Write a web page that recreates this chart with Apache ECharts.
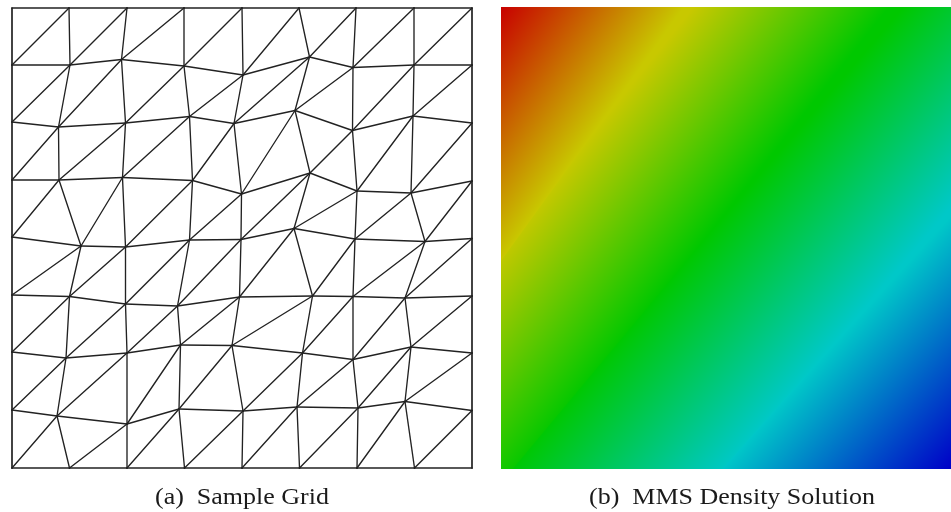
<!DOCTYPE html>
<html>
<head>
<meta charset="utf-8">
<style>
  html, body { margin: 0; background: #fff; }
  #main-chart { width: 951px; height: 512px; }
</style>
<script src="https://cdn.jsdelivr.net/npm/echarts@6/dist/echarts.min.js"></script>
</head>
<body>
<div id="main-chart"></div>
<script>
// mesh nodes, one row per horizontal grid line, top to bottom
const nodeX = [
  [0, 57, 115, 172, 230, 287, 344, 402, 460],
  [0, 58, 109.5, 172, 231, 297.5, 341, 402, 460],
  [0, 46.5, 113.5, 177.5, 222, 283, 340.5, 401, 460],
  [0, 47, 110.5, 180.5, 229.5, 298, 345, 399, 460],
  [0, 69, 113.5, 177.5, 229, 282, 343, 413, 460],
  [0, 57.5, 113.5, 165.5, 227.5, 300.5, 341, 393, 460],
  [0, 54, 115, 168.5, 220, 290.5, 341, 399, 460],
  [0, 45, 115, 167, 231, 285, 346, 393, 460],
  [0, 57.5, 115, 172.5, 230, 287.5, 345, 402.5, 460]
];
const nodeY = [
  [0, 0, 0, 0, 0, 0, 0, 0, 0],
  [57, 57, 51.5, 58, 67, 49, 59.5, 57, 57],
  [114, 119, 115, 108.5, 115.5, 102.5, 122.5, 108, 115],
  [172, 172, 169.5, 172.5, 186, 165, 183, 185, 173],
  [229, 238, 239, 232, 231.5, 220.5, 231, 233.5, 230.5],
  [287, 288.5, 296, 298, 289, 288, 288.5, 290, 288],
  [344, 350, 345, 337, 337.5, 345, 351.5, 339, 345],
  [402, 408, 416, 401, 403, 399, 400, 393.5, 402.5],
  [460, 460, 460, 460, 460, 460, 460, 460, 460]
];

// density contours: [x0, y0, x1, y1]
const densityLines = [
  [74, -100, -74, 100],
  [188, 0, 3, 250],
  [408, 0, 12, 462],
  [450, 220, 227, 462],
  [557, 362, 367, 562]
];
const densityColors = ["#c80000", "#c8c800", "#00c800", "#00c8c8", "#0000c8"];

const captions = ["(a)  Sample Grid", "(b)  MMS Density Solution"];

const segments = [];
for (let r = 0; r < 9; r++) {
  for (let c = 0; c < 9; c++) {
    const x = nodeX[r][c];
    const y = nodeY[r][c];
    if (c < 8) segments.push([x, y, nodeX[r][c + 1], nodeY[r][c + 1]]);
    if (r < 8) segments.push([x, y, nodeX[r + 1][c], nodeY[r + 1][c]]);
    if (r < 8 && c < 8) segments.push([nodeX[r + 1][c], nodeY[r + 1][c], nodeX[r][c + 1], nodeY[r][c + 1]]);
  }
}

const bands = densityLines.slice(0, -1).map((line, i) => [...line, ...densityLines[i + 1], i]);

function renderSegment(params, api) {
  const x0 = api.value(0);
  const y0 = api.value(1);
  const x1 = api.value(2);
  const y1 = api.value(3);
  const a = api.coord([x0, y0]);
  const b = api.coord([x1, y1]);
  // the outer square reads heavier than the inner edges
  const onBorder = (x0 === x1 && (x0 === 0 || x0 === 460)) || (y0 === y1 && (y0 === 0 || y0 === 460));
  return {
    type: "line",
    shape: { x1: a[0], y1: a[1], x2: b[0], y2: b[1] },
    style: { stroke: "#222", lineWidth: onBorder ? 1.7 : 1.35, lineCap: "round" }
  };
}

function stretch(p, q) {
  const dx = (q[0] - p[0]) * 0.6;
  const dy = (q[1] - p[1]) * 0.6;
  return [[p[0] - dx, p[1] - dy], [q[0] + dx, q[1] + dy]];
}

function renderBand(params, api) {
  const a0 = api.coord([api.value(0), api.value(1)]);
  const a1 = api.coord([api.value(2), api.value(3)]);
  const b0 = api.coord([api.value(4), api.value(5)]);
  const b1 = api.coord([api.value(6), api.value(7)]);
  const i = api.value(8);

  // gradient runs square to the mean direction of the two contours
  let ux = a1[0] - a0[0] + b1[0] - b0[0];
  let uy = a1[1] - a0[1] + b1[1] - b0[1];
  const len = Math.hypot(ux, uy);
  const nx = -uy / len;
  const ny = ux / len;
  const ma = [(a0[0] + a1[0]) / 2, (a0[1] + a1[1]) / 2];
  const mb = [(b0[0] + b1[0]) / 2, (b0[1] + b1[1]) / 2];
  const d = (mb[0] - ma[0]) * nx + (mb[1] - ma[1]) * ny;

  const ea = stretch(a0, a1);
  const eb = stretch(b0, b1);
  // run a little past the far contour so the next band covers the seam
  const over = Math.sign(d) * 3;
  const far1 = [eb[1][0] + nx * over, eb[1][1] + ny * over];
  const far0 = [eb[0][0] + nx * over, eb[0][1] + ny * over];
  return {
    type: "polygon",
    shape: { points: [ea[0], ea[1], far1, far0] },
    style: {
      fill: new echarts.graphic.LinearGradient(ma[0], ma[1], ma[0] + nx * d, ma[1] + ny * d, [
        { offset: 0, color: densityColors[i] },
        { offset: 1, color: densityColors[i + 1] }
      ], true)
    }
  };
}

function captionText(text, x) {
  return {
    type: "text",
    x: x,
    y: 498,
    scaleX: 1.13,
    style: {
      text: text,
      fontFamily: "Liberation Serif",
      fontSize: 23,
      fill: "#1a1a1a",
      textAlign: "center",
      textVerticalAlign: "middle"
    }
  };
}

const hiddenAxis = { type: "value", show: false, scale: false };

const chart = echarts.init(document.getElementById("main-chart"));
chart.setOption({
  animation: false,
  backgroundColor: "#fff",
  graphic: [captionText(captions[0], 242), captionText(captions[1], 732)],
  grid: [
    { left: 12, top: 8, width: 460, height: 460 },
    { left: 501, top: 7, width: 462, height: 462 }
  ],
  xAxis: [
    { ...hiddenAxis, gridIndex: 0, min: 0, max: 460 },
    { ...hiddenAxis, gridIndex: 1, min: 0, max: 462 }
  ],
  yAxis: [
    { ...hiddenAxis, gridIndex: 0, min: 0, max: 460, inverse: true },
    { ...hiddenAxis, gridIndex: 1, min: 0, max: 462, inverse: true }
  ],
  series: [
    {
      type: "custom",
      xAxisIndex: 0,
      yAxisIndex: 0,
      coordinateSystem: "cartesian2d",
      renderItem: renderSegment,
      encode: { x: [0, 2], y: [1, 3] },
      clip: false,
      silent: true,
      data: segments
    },
    {
      type: "custom",
      xAxisIndex: 1,
      yAxisIndex: 1,
      coordinateSystem: "cartesian2d",
      renderItem: renderBand,
      encode: { x: [0, 2], y: [1, 3] },
      clip: true,
      silent: true,
      data: bands
    }
  ]
});
</script>
</body>
</html>
